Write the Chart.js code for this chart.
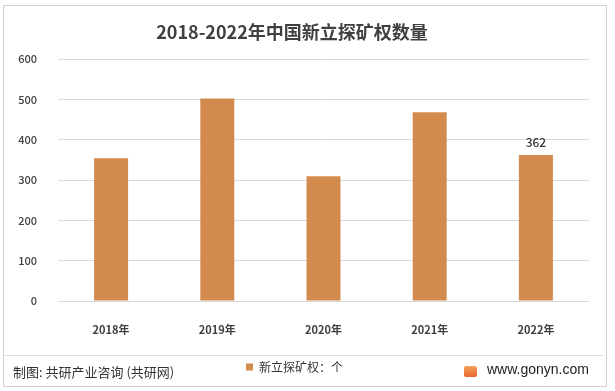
<!DOCTYPE html>
<html>
<head>
<meta charset="utf-8">
<script src="https://cdn.jsdelivr.net/npm/chart.js@4"></script>
<style>
	body { margin: 0; background: #fff; }
	#wrap { position: relative; width: 615px; height: 391px; overflow: hidden; }
	#frame { position: absolute; left: 3px; top: 5px; width: 604px; height: 382px; border: 1px solid #d0d0d0; box-sizing: border-box; }
	#title { position: absolute; left: 0; width: 584px; top: 18px; text-align: center; font: bold 18px "Noto Sans CJK SC", sans-serif; color: #404040; }
	#sep { position: absolute; left: 5px; top: 355px; width: 598px; height: 1px; background: #e0e0e0; }
	#src { position: absolute; left: 13px; top: 362px; font: 13px "Noto Sans CJK SC", sans-serif; color: #333; }
	#site { position: absolute; left: 487px; top: 361px; font: 14px "Liberation Sans", sans-serif; color: #222; }
	#logo { position: absolute; left: 464px; top: 366px; width: 13px; height: 11px; background: linear-gradient(#f5a35a, #e8632b); border-radius: 2px; }
	canvas { position: absolute; left: 0; top: 0; }
</style>
</head>
<body>
<div id="wrap">
	<div id="frame"></div>
	<canvas id="myChart" width="615" height="391"></canvas>
	<div id="title">2018-2022年中国新立探矿权数量</div>
	<div id="sep"></div>
	<div id="src">制图: 共研产业咨询 (共研网)</div>
	<div id="logo"></div>
	<div id="site">www.gonyn.com</div>
</div>
<script>
// data
var years = ["2018年", "2019年", "2020年", "2021年", "2022年"];
var counts = [354, 502, 309, 468, 362];
var yTicks = [0, 100, 200, 300, 400, 500, 600];
var seriesName = "新立探矿权：个";
var labelled = [4]; // only the 2022 bar carries a value label

// writes the value on top of the labelled bars
var valueLabels = {
	id: "valueLabels",
	afterDatasetsDraw: function (chart) {
		var ctx = chart.ctx;
		var meta = chart.getDatasetMeta(0);
		ctx.save();
		ctx.font = "500 12px 'Noto Sans CJK SC', sans-serif";
		ctx.fillStyle = "#333";
		ctx.textAlign = "center";
		ctx.textBaseline = "middle";
		labelled.forEach(function (i) {
			var bar = meta.data[i];
			ctx.fillText(counts[i], bar.x, bar.y - 13);
		});
		ctx.restore();
	},
};

var ctx = document.getElementById("myChart").getContext("2d");
var myChart = new Chart(ctx, {
	type: "bar",
	data: {
		labels: years,
		datasets: [
			{
				label: seriesName,
				data: counts,
				backgroundColor: "#D38B4D",
				categoryPercentage: 1,
				barPercentage: 0.32,
			},
		],
	},
	options: {
		responsive: false,
		animation: false,
		layout: {
			padding: { top: 59, right: 26, bottom: 8, left: 0 },
		},
		plugins: {
			legend: {
				position: "bottom",
				labels: {
					boxWidth: 7,
					boxHeight: 7,
					padding: 10,
					color: "#333",
					font: { size: 12, family: "'Noto Sans CJK SC', sans-serif" },
				},
			},
			title: { display: false },
			tooltip: { enabled: false },
		},
		scales: {
			x: {
				grid: { display: false },
				border: { display: false },
				ticks: {
					padding: 14,
					color: "#404040",
					font: { size: 11, weight: "bold", family: "'Noto Sans CJK SC', sans-serif" },
				},
				afterFit: function (s) {
					s.height = 50;
				},
			},
			y: {
				min: 0,
				max: 600,
				afterBuildTicks: function (s) {
					s.ticks = yTicks.map(function (v) { return { value: v }; });
				},
				grid: { color: "#d9d9d9", drawTicks: false },
				border: { display: false },
				ticks: {
					padding: 21,
					color: "#404040",
					font: { size: 11, weight: "500", family: "'Noto Sans CJK SC', sans-serif" },
				},
				afterFit: function (s) {
					s.width = 58;
				},
			},
		},
	},
	plugins: [valueLabels],
});
</script>
</body>
</html>
